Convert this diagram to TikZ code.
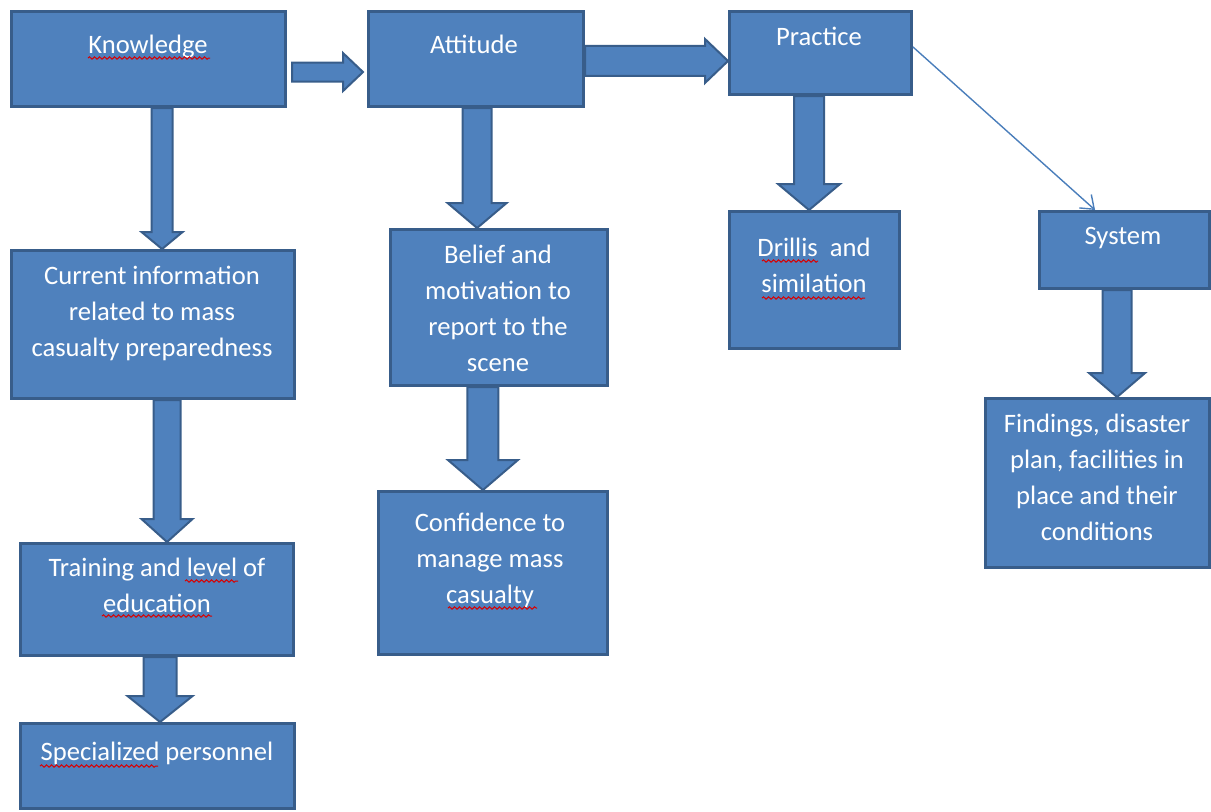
\documentclass[tikz,border=0pt]{standalone}
\usepackage{fontspec}
\setmainfont{Carlito}
\usetikzlibrary{calc,arrows.meta,decorations.pathmorphing}
\definecolor{boxfill}{HTML}{4F81BD}
\definecolor{boxborder}{HTML}{385D8A}
\definecolor{linecol}{HTML}{4A7EBB}
\pgfdeclarelayer{bg}
\pgfsetlayers{bg,main}
\newcommand{\bkarrow}[5]{%
  \coordinate (ba-h) at ($(#2)!#5!(#1)$);
  \path[barrow] ($(#1)!#3!90:(#2)$) -- ($(ba-h)!#3!90:(#2)$) -- ($(ba-h)!#4!90:(#2)$) -- (#2)
    -- ($(ba-h)!#4!-90:(#2)$) -- ($(ba-h)!#3!-90:(#2)$) -- ($(#1)!#3!-90:(#2)$) -- cycle;
}
\tikzset{
  box/.style={draw=boxborder, fill=boxfill, line width=1.5pt, inner sep=0pt},
  txt/.style={text=white, font=\fontsize{13.3}{18}\selectfont, align=center, anchor=base, inner sep=0pt},
  barrow/.style={draw=boxborder, fill=boxfill, line width=1pt, line join=miter},
  thinarrow/.style={draw=linecol, line width=0.7pt, -{Straight Barb[length=6pt,width=9pt]}},
  squig/.style={draw=red!85!black, line width=0.5pt, decorate, decoration={snake, amplitude=0.6pt, segment length=2.5pt}}
}
\begin{document}
\begin{tikzpicture}[x=0.5pt,y=-0.5pt]
\useasboundingbox (0,0) rectangle (1211,811);
% boxes
\node[box, minimum width=137pt, minimum height=47.5pt] (k) at (148.5,59) {};
\node[box, minimum width=107.5pt, minimum height=47.5pt] (a) at (476,59) {};
\node[box, minimum width=91pt, minimum height=41.5pt] (p) at (820.5,53) {};
\node[box, minimum width=141.5pt, minimum height=74pt] (c) at (153,324.5) {};
\node[box, minimum width=136.5pt, minimum height=56pt] (t) at (157,599.5) {};
\node[box, minimum width=137pt, minimum height=42.5pt] (s) at (157.5,766) {};
\node[box, minimum width=108.5pt, minimum height=78pt] (b) at (499,307.5) {};
\node[box, minimum width=114.5pt, minimum height=81.5pt] (cf) at (493,573) {};
\node[box, minimum width=85pt, minimum height=68.5pt] (d) at (814.5,280) {};
\node[box, minimum width=85pt, minimum height=38.5pt] (sy) at (1124.5,250) {};
\node[box, minimum width=112pt, minimum height=84.5pt] (f) at (1097.5,483) {};
% texts (anchored at the baseline of the last line)
\node[txt] (kt) at (148,53) {Knowledge};
\node[txt] (at) at (474,53) {Attitude};
\node[txt] (pt) at (819,45) {Practice};
\node[txt] (ct) at (152,356) {Current information\\related to mass\\casualty preparedness};
\node[txt] (tt) at (157,612) {Training and level of\\education};
\node[txt] (st) at (157,760) {Specialized personnel};
\node[txt] (bt) at (498,371) {Belief and\\motivation to\\report to the\\scene};
\node[txt] (cft) at (490,603) {Confidence to\\manage mass\\casualty};
\node[txt] (dt) at (814,292) {Drillis\ \ and\\similation};
\node[txt] (syt) at (1123,244) {System};
\node[txt] (ft) at (1097,540) {Findings, disaster\\plan, facilities in\\place and their\\conditions};
% spell-check underlines
\draw[squig] (88,58) -- (210,58);
\draw[squig] (185,581) -- (238,581);
\draw[squig] (102,616) -- (212,616);
\draw[squig] (40,766) -- (158,766);
\draw[squig] (762,261) -- (818,261);
\draw[squig] (762,298) -- (865,298);
\draw[squig] (448,608) -- (537,608);
% block arrows
\begin{pgfonlayer}{bg}
\coordinate (s1) at ($(k.south west)!0.549!(k.south east)$);
\coordinate (e1) at (s1 |- c.north);
\bkarrow{s1}{e1}{5.25pt}{10.25pt}{8.5pt}
\coordinate (s2) at ($(a.south west)!0.505!(a.south east)$);
\coordinate (e2) at (s2 |- b.north);
\bkarrow{s2}{e2}{7.25pt}{14.75pt}{12.5pt}
\coordinate (s3) at ($(p.south west)!0.438!(p.south east)$);
\coordinate (e3) at (s3 |- d.north);
\bkarrow{s3}{e3}{7.5pt}{15.5pt}{13pt}
\coordinate (s4) at ($(sy.south west)!0.457!(sy.south east)$);
\coordinate (e4) at (s4 |- f.north);
\bkarrow{s4}{e4}{7.25pt}{14pt}{12pt}
\coordinate (s5) at ($(c.south west)!0.549!(c.south east)$);
\coordinate (e5) at (s5 |- t.north);
\bkarrow{s5}{e5}{6.75pt}{12.75pt}{11.5pt}
\coordinate (s6) at ($(b.south west)!0.427!(b.south east)$);
\coordinate (e6) at (s6 |- cf.north);
\bkarrow{s6}{e6}{7.75pt}{17.5pt}{15pt}
\coordinate (s7) at ($(t.south west)!0.511!(t.south east)$);
\coordinate (e7) at (s7 |- s.north);
\bkarrow{s7}{e7}{8.25pt}{16.25pt}{13pt}
\coordinate (s8) at ($(k.north east)!0.633!(k.south east)+(5,0)$);
\coordinate (e8) at ($(s8 -| a.west)+(-4,0)$);
\bkarrow{s8}{e8}{4.75pt}{9.5pt}{10pt}
\coordinate (s9) at ($(a.north east)!0.52!(a.south east)$);
\coordinate (e9) at (s9 -| p.west);
\bkarrow{s9}{e9}{7.5pt}{11pt}{11.5pt}
\end{pgfonlayer}
% thin arrow
\coordinate (s10) at ($(p.north east)!0.43!(p.south east)$);
\coordinate (e10) at ($(sy.north west)!0.33!(sy.north east)$);
\draw[thinarrow] (s10) -- (e10);
\end{tikzpicture}
\end{document}
